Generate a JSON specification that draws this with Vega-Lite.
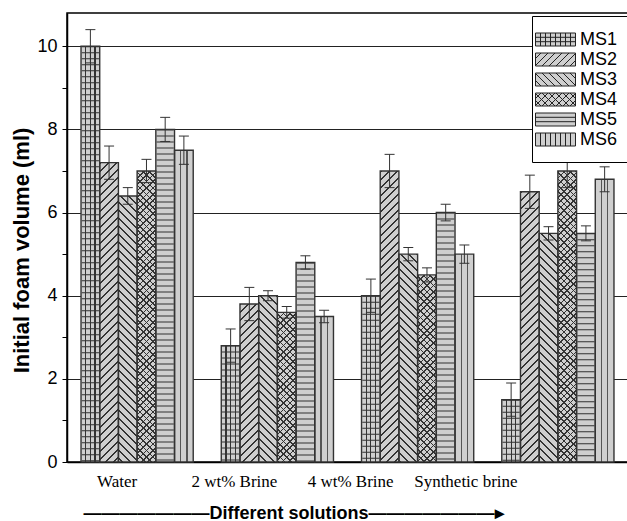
{
  "$schema": "https://vega.github.io/schema/vega-lite/v6.json",
  "width": 561,
  "height": 449,
  "autosize": "none",
  "padding": {"left": 67, "top": 13, "right": 0, "bottom": 59},
  "background": "white",
  "params": [
    {"name": "v3s", "value": [{"offset":0,"color":"transparent"},{"offset":0.22,"color":"transparent"},{"offset":0.22,"color":"#333"},{"offset":0.28,"color":"#333"},{"offset":0.28,"color":"transparent"},{"offset":0.47,"color":"transparent"},{"offset":0.47,"color":"#333"},{"offset":0.53,"color":"#333"},{"offset":0.53,"color":"transparent"},{"offset":0.72,"color":"transparent"},{"offset":0.72,"color":"#333"},{"offset":0.78,"color":"#333"},{"offset":0.78,"color":"transparent"},{"offset":1,"color":"transparent"}]},
    {"name": "v2s", "value": [{"offset":0,"color":"transparent"},{"offset":0.3,"color":"transparent"},{"offset":0.3,"color":"#555"},{"offset":0.36,"color":"#555"},{"offset":0.36,"color":"transparent"},{"offset":0.64,"color":"transparent"},{"offset":0.64,"color":"#555"},{"offset":0.7,"color":"#555"},{"offset":0.7,"color":"transparent"},{"offset":1,"color":"transparent"}]},
    {"name": "dgs", "value": [
{"offset":0,"color":"#333"},{"offset":0.005,"color":"#333"},{"offset":0.005,"color":"transparent"},{"offset":0.02,"color":"transparent"},
{"offset":0.02,"color":"#333"},{"offset":0.025,"color":"#333"},{"offset":0.025,"color":"transparent"},{"offset":0.04,"color":"transparent"},
{"offset":0.04,"color":"#333"},{"offset":0.045,"color":"#333"},{"offset":0.045,"color":"transparent"},{"offset":0.06,"color":"transparent"},
{"offset":0.06,"color":"#333"},{"offset":0.065,"color":"#333"},{"offset":0.065,"color":"transparent"},{"offset":0.08,"color":"transparent"},
{"offset":0.08,"color":"#333"},{"offset":0.085,"color":"#333"},{"offset":0.085,"color":"transparent"},{"offset":0.1,"color":"transparent"},
{"offset":0.1,"color":"#333"},{"offset":0.105,"color":"#333"},{"offset":0.105,"color":"transparent"},{"offset":0.12,"color":"transparent"},
{"offset":0.12,"color":"#333"},{"offset":0.125,"color":"#333"},{"offset":0.125,"color":"transparent"},{"offset":0.14,"color":"transparent"},
{"offset":0.14,"color":"#333"},{"offset":0.145,"color":"#333"},{"offset":0.145,"color":"transparent"},{"offset":0.16,"color":"transparent"},
{"offset":0.16,"color":"#333"},{"offset":0.165,"color":"#333"},{"offset":0.165,"color":"transparent"},{"offset":0.18,"color":"transparent"},
{"offset":0.18,"color":"#333"},{"offset":0.185,"color":"#333"},{"offset":0.185,"color":"transparent"},{"offset":0.2,"color":"transparent"},
{"offset":0.2,"color":"#333"},{"offset":0.205,"color":"#333"},{"offset":0.205,"color":"transparent"},{"offset":0.22,"color":"transparent"},
{"offset":0.22,"color":"#333"},{"offset":0.225,"color":"#333"},{"offset":0.225,"color":"transparent"},{"offset":0.24,"color":"transparent"},
{"offset":0.24,"color":"#333"},{"offset":0.245,"color":"#333"},{"offset":0.245,"color":"transparent"},{"offset":0.26,"color":"transparent"},
{"offset":0.26,"color":"#333"},{"offset":0.265,"color":"#333"},{"offset":0.265,"color":"transparent"},{"offset":0.28,"color":"transparent"},
{"offset":0.28,"color":"#333"},{"offset":0.285,"color":"#333"},{"offset":0.285,"color":"transparent"},{"offset":0.3,"color":"transparent"},
{"offset":0.3,"color":"#333"},{"offset":0.305,"color":"#333"},{"offset":0.305,"color":"transparent"},{"offset":0.32,"color":"transparent"},
{"offset":0.32,"color":"#333"},{"offset":0.325,"color":"#333"},{"offset":0.325,"color":"transparent"},{"offset":0.34,"color":"transparent"},
{"offset":0.34,"color":"#333"},{"offset":0.345,"color":"#333"},{"offset":0.345,"color":"transparent"},{"offset":0.36,"color":"transparent"},
{"offset":0.36,"color":"#333"},{"offset":0.365,"color":"#333"},{"offset":0.365,"color":"transparent"},{"offset":0.38,"color":"transparent"},
{"offset":0.38,"color":"#333"},{"offset":0.385,"color":"#333"},{"offset":0.385,"color":"transparent"},{"offset":0.4,"color":"transparent"},
{"offset":0.4,"color":"#333"},{"offset":0.405,"color":"#333"},{"offset":0.405,"color":"transparent"},{"offset":0.42,"color":"transparent"},
{"offset":0.42,"color":"#333"},{"offset":0.425,"color":"#333"},{"offset":0.425,"color":"transparent"},{"offset":0.44,"color":"transparent"},
{"offset":0.44,"color":"#333"},{"offset":0.445,"color":"#333"},{"offset":0.445,"color":"transparent"},{"offset":0.46,"color":"transparent"},
{"offset":0.46,"color":"#333"},{"offset":0.465,"color":"#333"},{"offset":0.465,"color":"transparent"},{"offset":0.48,"color":"transparent"},
{"offset":0.48,"color":"#333"},{"offset":0.485,"color":"#333"},{"offset":0.485,"color":"transparent"},{"offset":0.5,"color":"transparent"},
{"offset":0.5,"color":"#333"},{"offset":0.505,"color":"#333"},{"offset":0.505,"color":"transparent"},{"offset":0.52,"color":"transparent"},
{"offset":0.52,"color":"#333"},{"offset":0.525,"color":"#333"},{"offset":0.525,"color":"transparent"},{"offset":0.54,"color":"transparent"},
{"offset":0.54,"color":"#333"},{"offset":0.545,"color":"#333"},{"offset":0.545,"color":"transparent"},{"offset":0.56,"color":"transparent"},
{"offset":0.56,"color":"#333"},{"offset":0.565,"color":"#333"},{"offset":0.565,"color":"transparent"},{"offset":0.58,"color":"transparent"},
{"offset":0.58,"color":"#333"},{"offset":0.585,"color":"#333"},{"offset":0.585,"color":"transparent"},{"offset":0.6,"color":"transparent"},
{"offset":0.6,"color":"#333"},{"offset":0.605,"color":"#333"},{"offset":0.605,"color":"transparent"},{"offset":0.62,"color":"transparent"},
{"offset":0.62,"color":"#333"},{"offset":0.625,"color":"#333"},{"offset":0.625,"color":"transparent"},{"offset":0.64,"color":"transparent"},
{"offset":0.64,"color":"#333"},{"offset":0.645,"color":"#333"},{"offset":0.645,"color":"transparent"},{"offset":0.66,"color":"transparent"},
{"offset":0.66,"color":"#333"},{"offset":0.665,"color":"#333"},{"offset":0.665,"color":"transparent"},{"offset":0.68,"color":"transparent"},
{"offset":0.68,"color":"#333"},{"offset":0.685,"color":"#333"},{"offset":0.685,"color":"transparent"},{"offset":0.7,"color":"transparent"},
{"offset":0.7,"color":"#333"},{"offset":0.705,"color":"#333"},{"offset":0.705,"color":"transparent"},{"offset":0.72,"color":"transparent"},
{"offset":0.72,"color":"#333"},{"offset":0.725,"color":"#333"},{"offset":0.725,"color":"transparent"},{"offset":0.74,"color":"transparent"},
{"offset":0.74,"color":"#333"},{"offset":0.745,"color":"#333"},{"offset":0.745,"color":"transparent"},{"offset":0.76,"color":"transparent"},
{"offset":0.76,"color":"#333"},{"offset":0.765,"color":"#333"},{"offset":0.765,"color":"transparent"},{"offset":0.78,"color":"transparent"},
{"offset":0.78,"color":"#333"},{"offset":0.785,"color":"#333"},{"offset":0.785,"color":"transparent"},{"offset":0.8,"color":"transparent"},
{"offset":0.8,"color":"#333"},{"offset":0.805,"color":"#333"},{"offset":0.805,"color":"transparent"},{"offset":0.82,"color":"transparent"},
{"offset":0.82,"color":"#333"},{"offset":0.825,"color":"#333"},{"offset":0.825,"color":"transparent"},{"offset":0.84,"color":"transparent"},
{"offset":0.84,"color":"#333"},{"offset":0.845,"color":"#333"},{"offset":0.845,"color":"transparent"},{"offset":0.86,"color":"transparent"},
{"offset":0.86,"color":"#333"},{"offset":0.865,"color":"#333"},{"offset":0.865,"color":"transparent"},{"offset":0.88,"color":"transparent"},
{"offset":0.88,"color":"#333"},{"offset":0.885,"color":"#333"},{"offset":0.885,"color":"transparent"},{"offset":0.9,"color":"transparent"},
{"offset":0.9,"color":"#333"},{"offset":0.905,"color":"#333"},{"offset":0.905,"color":"transparent"},{"offset":0.92,"color":"transparent"},
{"offset":0.92,"color":"#333"},{"offset":0.925,"color":"#333"},{"offset":0.925,"color":"transparent"},{"offset":0.94,"color":"transparent"},
{"offset":0.94,"color":"#333"},{"offset":0.945,"color":"#333"},{"offset":0.945,"color":"transparent"},{"offset":0.96,"color":"transparent"},
{"offset":0.96,"color":"#333"},{"offset":0.965,"color":"#333"},{"offset":0.965,"color":"transparent"},{"offset":0.98,"color":"transparent"},
{"offset":0.98,"color":"#333"},{"offset":0.985,"color":"#333"},{"offset":0.985,"color":"transparent"},{"offset":1,"color":"transparent"}
    ]}
  ],
  "data": {"values": [
    {"sol": "Water", "s": "MS1", "v": 10.0, "lo": 9.6, "hi": 10.4},
    {"sol": "Water", "s": "MS2", "v": 7.2, "lo": 6.8, "hi": 7.6},
    {"sol": "Water", "s": "MS3", "v": 6.4, "lo": 6.2, "hi": 6.6},
    {"sol": "Water", "s": "MS4", "v": 7.0, "lo": 6.72, "hi": 7.28},
    {"sol": "Water", "s": "MS5", "v": 8.0, "lo": 7.71, "hi": 8.29},
    {"sol": "Water", "s": "MS6", "v": 7.5, "lo": 7.16, "hi": 7.84},
    {"sol": "2 wt% Brine", "s": "MS1", "v": 2.8, "lo": 2.4, "hi": 3.2},
    {"sol": "2 wt% Brine", "s": "MS2", "v": 3.8, "lo": 3.4, "hi": 4.2},
    {"sol": "2 wt% Brine", "s": "MS3", "v": 4.0, "lo": 3.88, "hi": 4.12},
    {"sol": "2 wt% Brine", "s": "MS4", "v": 3.6, "lo": 3.46, "hi": 3.74},
    {"sol": "2 wt% Brine", "s": "MS5", "v": 4.8, "lo": 4.64, "hi": 4.96},
    {"sol": "2 wt% Brine", "s": "MS6", "v": 3.5, "lo": 3.35, "hi": 3.65},
    {"sol": "4 wt% Brine", "s": "MS1", "v": 4.0, "lo": 3.6, "hi": 4.4},
    {"sol": "4 wt% Brine", "s": "MS2", "v": 7.0, "lo": 6.6, "hi": 7.4},
    {"sol": "4 wt% Brine", "s": "MS3", "v": 5.0, "lo": 4.84, "hi": 5.16},
    {"sol": "4 wt% Brine", "s": "MS4", "v": 4.5, "lo": 4.33, "hi": 4.67},
    {"sol": "4 wt% Brine", "s": "MS5", "v": 6.0, "lo": 5.8, "hi": 6.2},
    {"sol": "4 wt% Brine", "s": "MS6", "v": 5.0, "lo": 4.78, "hi": 5.22},
    {"sol": "Synthetic brine", "s": "MS1", "v": 1.5, "lo": 1.1, "hi": 1.9},
    {"sol": "Synthetic brine", "s": "MS2", "v": 6.5, "lo": 6.1, "hi": 6.9},
    {"sol": "Synthetic brine", "s": "MS3", "v": 5.5, "lo": 5.34, "hi": 5.66},
    {"sol": "Synthetic brine", "s": "MS4", "v": 7.0, "lo": 6.6, "hi": 7.4},
    {"sol": "Synthetic brine", "s": "MS5", "v": 5.5, "lo": 5.32, "hi": 5.68},
    {"sol": "Synthetic brine", "s": "MS6", "v": 6.8, "lo": 6.5, "hi": 7.1}
  ]},
  "encoding": {
    "x": {
      "field": "sol", "type": "nominal", "sort": null,
      "scale": {"domain": ["Water", "2 wt% Brine", "4 wt% Brine", "Synthetic brine"], "paddingInner": 0.2, "paddingOuter": 0.1},
      "axis": {
        "title": "———————Different solutions———————▸",
        "titleFont": "Liberation Sans", "titleFontSize": 18, "titleFontWeight": "bold", "titleColor": "#000",
        "titleX": 226, "titleY": 51, "titleAlign": "center", "titleBaseline": "middle", "titleAnchor": null,
        "labelFont": "Liberation Serif", "labelFontSize": 17, "labelColor": "#000", "labelPadding": 11, "labelAngle": 0,
        "labelOffset": {"condition": [
          {"test": "datum.value === 'Water'", "value": -20},
          {"test": "datum.value === '2 wt% Brine'", "value": -43},
          {"test": "datum.value === '4 wt% Brine'", "value": -67}
        ], "value": -92},
        "ticks": false, "domainColor": "#000", "domainWidth": 1.5
      }
    },
    "xOffset": {
      "field": "s", "type": "nominal",
      "scale": {"domain": ["MS1", "MS2", "MS3", "MS4", "MS5", "MS6"], "paddingInner": 0, "paddingOuter": 0}
    }
  },
  "resolve": {"axis": {"y": "independent"}},
  "layer": [
    {
      "mark": {"type": "bar", "strokeWidth": 0},
      "encoding": {
        "y": {
          "field": "v", "type": "quantitative", "stack": null,
          "scale": {"domain": [0, 10.8], "nice": false, "zero": true},
          "axis": {
            "values": [0, 1, 2, 3, 4, 5, 6, 7, 8, 9, 10],
            "labelExpr": "datum.value % 2 === 0 ? datum.label : ''",
            "labelOverlap": false,
            "grid": true, "gridColor": "#222", "gridWidth": 1,
            "gridOpacity": {"condition": {"test": "datum.value % 2 === 0 && datum.value > 0", "value": 1}, "value": 0},
            "domainColor": "#000", "domainWidth": 1.5,
            "tickColor": "#000", "tickWidth": 1,
            "labelFont": "Liberation Sans", "labelFontSize": 18, "labelColor": "#000", "labelPadding": 5,
            "title": "Initial foam volume (ml)",
            "titleFont": "Liberation Sans", "titleFontSize": 22, "titleFontWeight": "bold", "titleColor": "#000", "titlePadding": 3,
            "titleY": 237,
            "encode": {"ticks": {"update": {"x2": {"signal": "datum.value % 2 === 0 ? 5 : 3"}}}}
          }
        },
        "color": {
          "field": "s", "type": "nominal",
          "scale": {"domain": ["MS1", "MS2", "MS3", "MS4", "MS5", "MS6"], "range": ["#cfcfcf", "#cfcfcf", "#cfcfcf", "#cfcfcf", "#cfcfcf", "#cfcfcf"]},
          "legend": {
            "title": null, "orient": "none", "legendX": 465, "legendY": 3,
            "padding": 13, "rowPadding": 0, "symbolSize": 400,
            "labelFont": "Liberation Sans", "labelFontSize": 18, "labelColor": "#000", "labelOffset": 14,
            "fillColor": "white", "strokeColor": "#000", "cornerRadius": 0,
            "encode": {"symbols": {"update": {
              "shape": {"signal": "datum.value === 'MS1' ? 'M-2,-0.65H2V0.65H-2ZM-1.5,-0.65V0.65M-1,-0.65V0.65M-0.5,-0.65V0.65M0,-0.65V0.65M0.5,-0.65V0.65M1,-0.65V0.65M1.5,-0.65V0.65M-2,-0.22H2M-2,0.22H2' : datum.value === 'MS2' ? 'M-2,-0.65H2V0.65H-2ZM-2,-0.1L-1.45,-0.65M-2,0.6L-0.75,-0.65M-1.35,0.65L-0.05,-0.65M-0.65,0.65L0.65,-0.65M0.05,0.65L1.35,-0.65M0.75,0.65L2,-0.6M1.45,0.65L2,0.1' : datum.value === 'MS3' ? 'M-2,-0.65H2V0.65H-2ZM2,-0.1L1.45,-0.65M2,0.6L0.75,-0.65M1.35,0.65L0.05,-0.65M0.65,0.65L-0.65,-0.65M-0.05,0.65L-1.35,-0.65M-0.75,0.65L-2,-0.6M-1.45,0.65L-2,0.1' : datum.value === 'MS4' ? 'M-2,-0.65H2V0.65H-2ZM-2,-0.1L-1.45,-0.65M-2,0.6L-0.75,-0.65M-1.35,0.65L-0.05,-0.65M-0.65,0.65L0.65,-0.65M0.05,0.65L1.35,-0.65M0.75,0.65L2,-0.6M1.45,0.65L2,0.1M2,-0.1L1.45,-0.65M2,0.6L0.75,-0.65M1.35,0.65L0.05,-0.65M0.65,0.65L-0.65,-0.65M-0.05,0.65L-1.35,-0.65M-0.75,0.65L-2,-0.6M-1.45,0.65L-2,0.1' : datum.value === 'MS5' ? 'M-2,-0.65H2V0.65H-2ZM-2,-0.22H2M-2,0.22H2' : 'M-2,-0.65H2V0.65H-2ZM-1.5,-0.65V0.65M-1,-0.65V0.65M-0.5,-0.65V0.65M0,-0.65V0.65M0.5,-0.65V0.65M1,-0.65V0.65M1.5,-0.65V0.65'"},
              "fill": {"value": "#cfcfcf"},
              "stroke": {"value": "#222"},
              "strokeWidth": {"value": 1},
              "opacity": {"value": 1}
            }}}
          }
        }
      }
    },
    {
      "mark": {
        "type": "bar", "strokeWidth": 0,
        "fill": {"expr": "datum.s === 'MS1' ? {gradient: 'linear', x1: 0, y1: 0, x2: 1, y2: 0, stops: v3s} : datum.s === 'MS6' ? {gradient: 'linear', x1: 0, y1: 0, x2: 1, y2: 0, stops: v2s} : datum.s === 'MS2' ? {gradient: 'linear', x1: 0, y1: 0, x2: 400 * bandwidth('xOffset') / (pow(bandwidth('xOffset'), 2) + pow(scale('y', 0) - scale('y', datum.v), 2)), y2: 400 * (scale('y', 0) - scale('y', datum.v)) / (pow(bandwidth('xOffset'), 2) + pow(scale('y', 0) - scale('y', datum.v), 2)), stops: dgs} : datum.s === 'MS4' ? {gradient: 'linear', x1: 0, y1: 0, x2: 320 * bandwidth('xOffset') / (pow(bandwidth('xOffset'), 2) + pow(scale('y', 0) - scale('y', datum.v), 2)), y2: 320 * (scale('y', 0) - scale('y', datum.v)) / (pow(bandwidth('xOffset'), 2) + pow(scale('y', 0) - scale('y', datum.v), 2)), stops: dgs} : datum.s === 'MS3' ? {gradient: 'linear', x1: 1, y1: 0, x2: 1 - 400 * bandwidth('xOffset') / (pow(bandwidth('xOffset'), 2) + pow(scale('y', 0) - scale('y', datum.v), 2)), y2: 400 * (scale('y', 0) - scale('y', datum.v)) / (pow(bandwidth('xOffset'), 2) + pow(scale('y', 0) - scale('y', datum.v), 2)), stops: dgs} : 'transparent'"}
      },
      "encoding": {
        "y": {"field": "v", "type": "quantitative", "stack": null, "axis": null}
      }
    },
    {
      "transform": [{"filter": "datum.s === 'MS1' || datum.s === 'MS5'"}],
      "mark": {"type": "rule", "stroke": "#333", "strokeDash": [1, 5], "strokeWidth": {"expr": "bandwidth('xOffset') - 1.5"}},
      "encoding": {
        "y": {"field": "v", "type": "quantitative", "axis": null},
        "y2": {"datum": 0}
      }
    },
    {
      "mark": {
        "type": "bar", "stroke": "#333", "strokeWidth": 1.4,
        "fill": {"expr": "datum.s === 'MS4' ? {gradient: 'linear', x1: 1, y1: 0, x2: 1 - 320 * bandwidth('xOffset') / (pow(bandwidth('xOffset'), 2) + pow(scale('y', 0) - scale('y', datum.v), 2)), y2: 320 * (scale('y', 0) - scale('y', datum.v)) / (pow(bandwidth('xOffset'), 2) + pow(scale('y', 0) - scale('y', datum.v), 2)), stops: dgs} : 'transparent'"}
      },
      "encoding": {
        "y": {"field": "v", "type": "quantitative", "stack": null, "axis": null}
      }
    },
    {
      "mark": {"type": "rule", "stroke": "#333", "strokeWidth": 1},
      "encoding": {
        "y": {"field": "lo", "type": "quantitative", "axis": null},
        "y2": {"field": "hi"}
      }
    },
    {
      "mark": {"type": "tick", "color": "#333", "size": 10, "thickness": 1, "opacity": 1},
      "encoding": {"y": {"field": "lo", "type": "quantitative", "axis": null}}
    },
    {
      "mark": {"type": "tick", "color": "#333", "size": 10, "thickness": 1, "opacity": 1},
      "encoding": {"y": {"field": "hi", "type": "quantitative", "axis": null}}
    }
  ],
  "config": {
    "font": "Liberation Sans",
    "view": {"stroke": "#000", "strokeWidth": 1.5}
  }
}
